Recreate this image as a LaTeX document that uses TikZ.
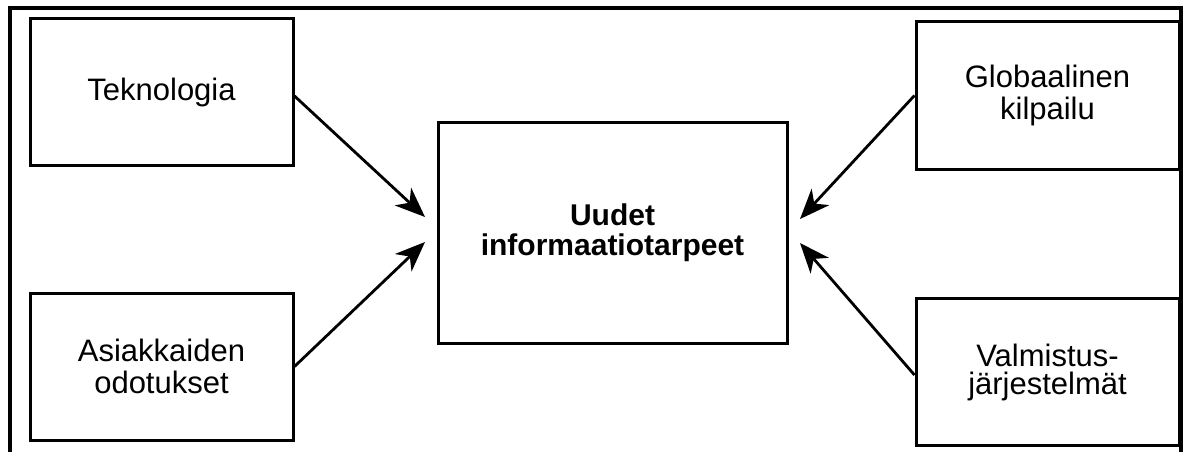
\documentclass[tikz,border=0pt]{standalone}
\usepackage{fontspec}
\setmainfont{Liberation Sans}
\usetikzlibrary{arrows.meta}
\begin{document}
\begin{tikzpicture}[x=1pt,y=-1pt,
  box/.style={draw, line width=3pt, minimum width=263pt, minimum height=147pt,
    align=center, inner sep=0pt, font=\fontsize{31}{32}\selectfont},
  hub/.style={draw, line width=3pt, minimum width=349pt, minimum height=221pt,
    align=center, inner sep=0pt, font=\fontsize{30}{30}\selectfont\bfseries},
  link/.style={line width=2.8pt, -{Stealth[length=30pt,width=24pt,inset=9pt]}}]
  \useasboundingbox (0,0) rectangle (1191,452);
  % outer frame, open at the bottom edge of the page
  \draw[line width=4pt] (10,470) -- (10,8) -- (1181,8) -- (1181,470);

  \node[box] (tek) at (161.5,92) {Teknologia};
  \node[box] (asi) at (161.5,366.5) {Asiakkaiden\\odotukset};
  \node[box] (glo) at (1047.5,95.5) {Globaalinen\\kilpailu};
  \node[box, font=\fontsize{31}{28}\selectfont] (val) at (1047.5,372) {Valmistus-\\järjestelmät};
  \node[hub] (mid) at (612.5,232.5) {Uudet\\informaatiotarpeet};

  \coordinate (tipA) at (425,217);
  \coordinate (tipB) at (425,242);
  \coordinate (tipC) at (800,219);
  \coordinate (tipD) at (800,243);

  \draw[link] ([yshift=-4pt]tek.east) -- (tipA);
  \draw[link] (asi.east) -- (tipB);
  \draw[link] (glo.west) -- (tipC);
  \draw[link] ([yshift=-3pt]val.west) -- (tipD);
\end{tikzpicture}
\end{document}
